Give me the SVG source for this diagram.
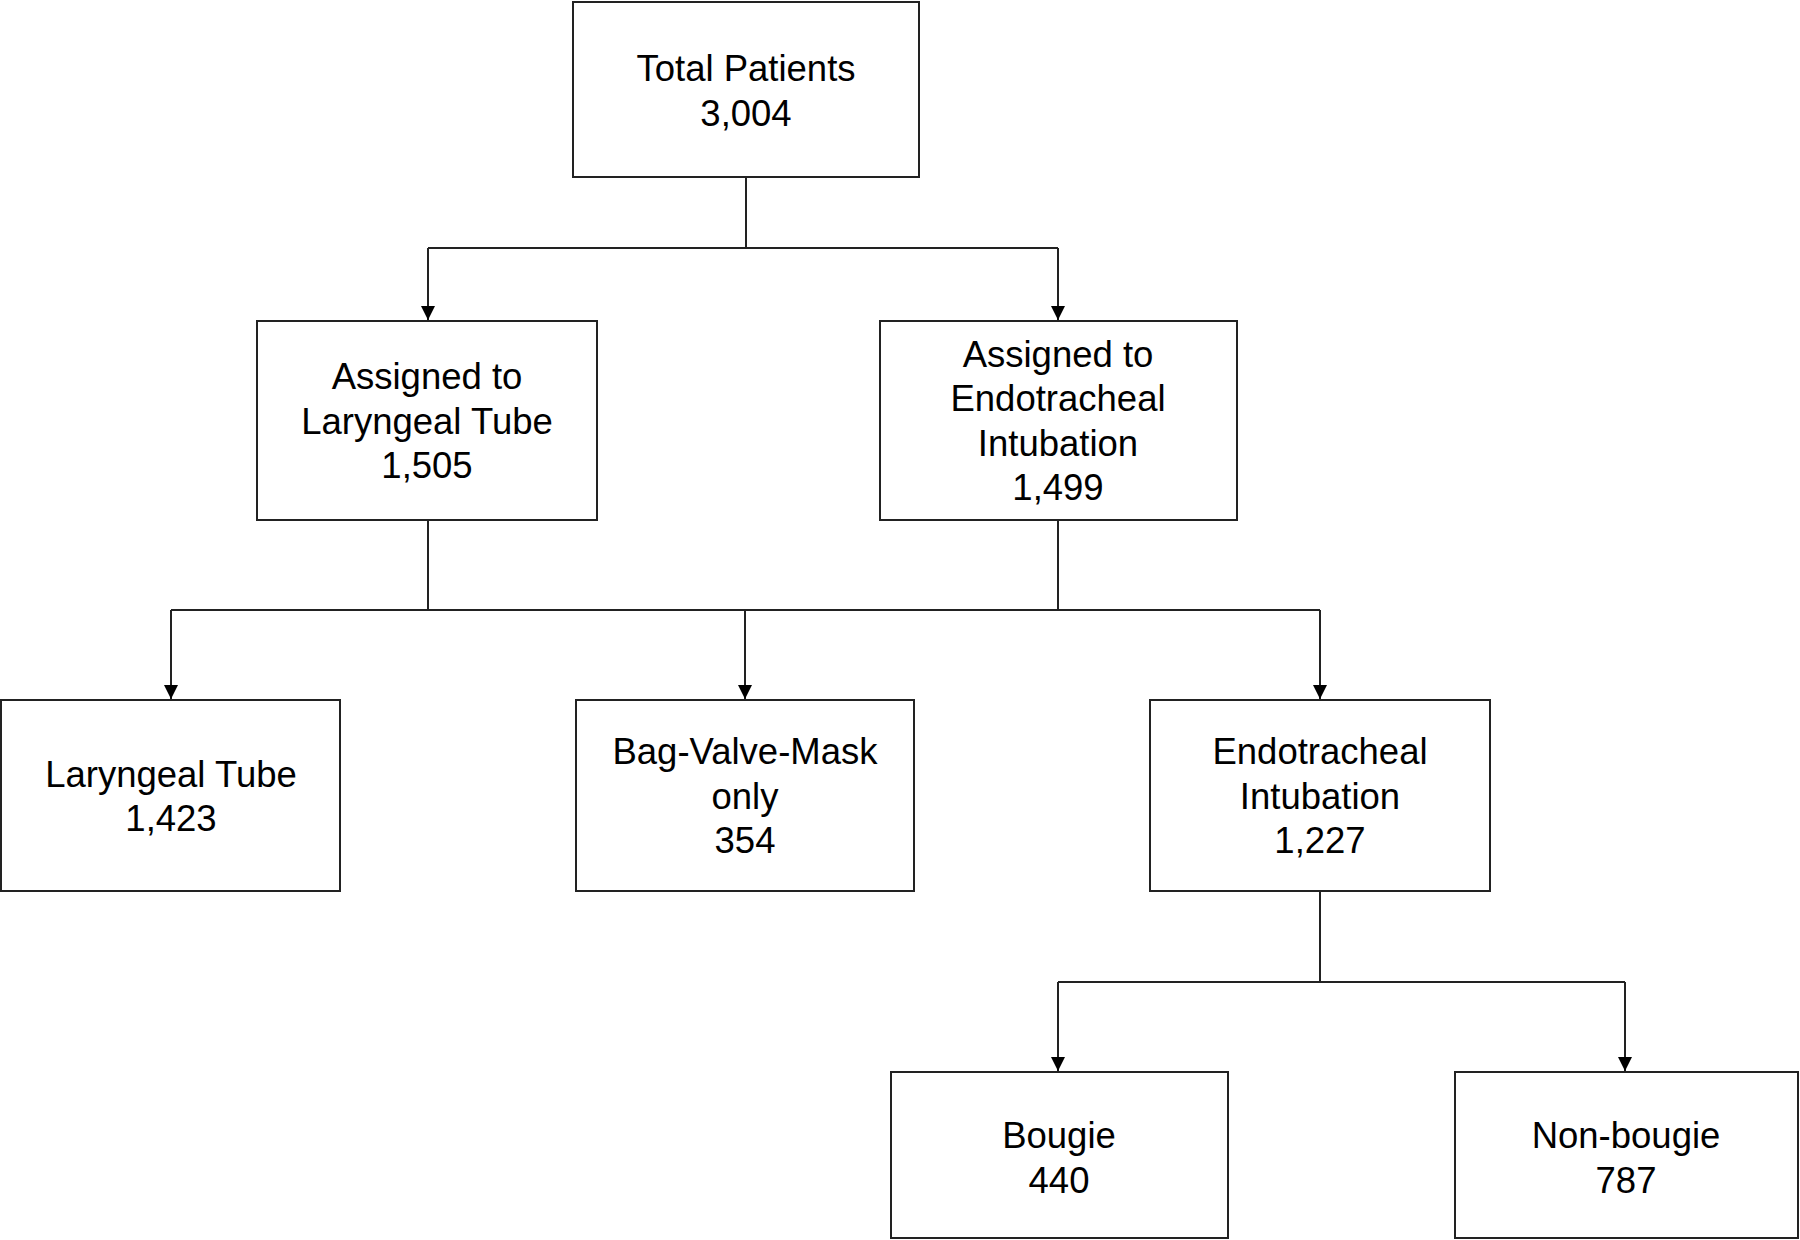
<svg xmlns="http://www.w3.org/2000/svg" width="1800" height="1240" viewBox="0 0 1800 1240">
<style>
.box{fill:#fff;stroke:#222;stroke-width:2}
.t{font-family:"Liberation Sans",Arial,sans-serif;font-size:36.5px;fill:#000;text-anchor:middle}
.c{fill:none;stroke:#222;stroke-width:2}
</style>
<defs>
<marker id="ah" markerWidth="14" markerHeight="16" refX="14" refY="8" orient="auto" markerUnits="userSpaceOnUse">
<path d="M0,1 L14,8 L0,15 Z" fill="#000"/>
</marker>
</defs>
<rect width="1800" height="1240" fill="#fff"/>
<g id="connectors">
<path class="c" d="M746,177 V248"/>
<path class="c" d="M428,248 H1058"/>
<path class="c" d="M428,248 V320" marker-end="url(#ah)"/>
<path class="c" d="M1058,248 V320" marker-end="url(#ah)"/>
<path class="c" d="M428,520 V610"/>
<path class="c" d="M1058,520 V610"/>
<path class="c" d="M171,610 H1320"/>
<path class="c" d="M171,610 V699" marker-end="url(#ah)"/>
<path class="c" d="M745,610 V699" marker-end="url(#ah)"/>
<path class="c" d="M1320,610 V699" marker-end="url(#ah)"/>
<path class="c" d="M1320,891 V982"/>
<path class="c" d="M1058,982 H1625"/>
<path class="c" d="M1058,982 V1071" marker-end="url(#ah)"/>
<path class="c" d="M1625,982 V1071" marker-end="url(#ah)"/>
</g>
<g id="total">
<rect class="box" x="573" y="2" width="346" height="175"/>
<text class="t" x="746" y="81">Total Patients</text>
<text class="t" x="746" y="126">3,004</text>
</g>
<g id="assigned-lt">
<rect class="box" x="257" y="321" width="340" height="199"/>
<text class="t" x="427" y="389">Assigned to</text>
<text class="t" x="427" y="434">Laryngeal Tube</text>
<text class="t" x="427" y="478">1,505</text>
</g>
<g id="assigned-eti">
<rect class="box" x="880" y="321" width="357" height="199"/>
<text class="t" x="1058" y="367">Assigned to</text>
<text class="t" x="1058" y="411">Endotracheal</text>
<text class="t" x="1058" y="456">Intubation</text>
<text class="t" x="1058" y="500">1,499</text>
</g>
<g id="lt">
<rect class="box" x="1" y="700" width="339" height="191"/>
<text class="t" x="171" y="787">Laryngeal Tube</text>
<text class="t" x="171" y="831">1,423</text>
</g>
<g id="bvm">
<rect class="box" x="576" y="700" width="338" height="191"/>
<text class="t" x="745" y="764">Bag-Valve-Mask</text>
<text class="t" x="745" y="809">only</text>
<text class="t" x="745" y="853">354</text>
</g>
<g id="eti">
<rect class="box" x="1150" y="700" width="340" height="191"/>
<text class="t" x="1320" y="764">Endotracheal</text>
<text class="t" x="1320" y="809">Intubation</text>
<text class="t" x="1320" y="853">1,227</text>
</g>
<g id="bougie">
<rect class="box" x="891" y="1072" width="337" height="166"/>
<text class="t" x="1059" y="1148">Bougie</text>
<text class="t" x="1059" y="1193">440</text>
</g>
<g id="nonbougie">
<rect class="box" x="1455" y="1072" width="343" height="166"/>
<text class="t" x="1626" y="1148">Non-bougie</text>
<text class="t" x="1626" y="1193">787</text>
</g>
</svg>
